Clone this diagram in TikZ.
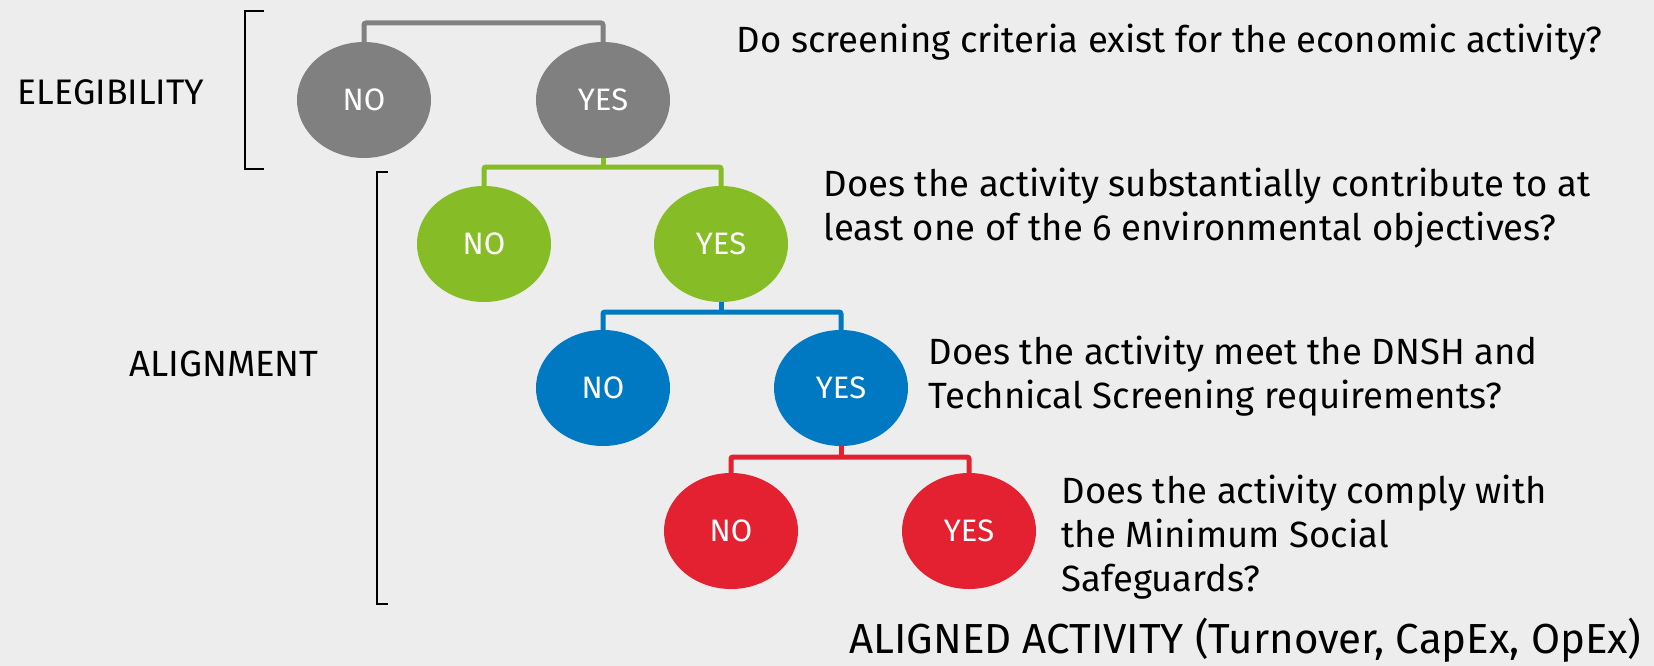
\documentclass[tikz,border=0pt]{standalone}
\usepackage{fontspec}
\setmainfont{Fira Sans}
\usetikzlibrary{positioning}
\usetikzlibrary{shapes.geometric}
\definecolor{backcol}{HTML}{EDEDED}
\definecolor{greycol}{HTML}{808080}
\definecolor{greencol}{HTML}{86BC25}
\definecolor{bluecol}{HTML}{0079C2}
\definecolor{redcol}{HTML}{E42131}

\begin{document}
\begin{tikzpicture}
	[x=1pt,y=-1pt,
	answer/.style={shape=ellipse,inner sep=0pt,minimum width=134pt,minimum height=116pt,text=white,font=\fontsize{31}{34}\selectfont},
	link/.style={line width=5pt,rounded corners=2pt},
	question/.style={anchor=west,align=left,font=\fontsize{36.5}{44}\selectfont},
	bracket/.style={line width=1.8pt}]
	\fill[backcol] (0,0) rectangle (1654,666);
	\useasboundingbox (0,0) rectangle (1654,666);
	
	% level 1
	\node [answer,fill=greycol] (n1) at (364,100) {NO} ;
	\node [answer,fill=greycol] (y1) at (603,100) {YES} ;
	% level 2
	\node [answer,fill=greencol] (n2) at (484,244) {NO} ;
	\node [answer,fill=greencol] (y2) at (721,244) {YES} ;
	% level 3
	\node [answer,fill=bluecol] (n3) at (603,388) {NO} ;
	\node [answer,fill=bluecol] (y3) at (841,388) {YES} ;
	% level 4
	\node [answer,fill=redcol] (n4) at (731,531) {NO} ;
	\node [answer,fill=redcol] (y4) at (969,531) {YES} ;
	
	\coordinate (t1) at (483,23) ;
	\coordinate (t2) at (603,167) ;
	\coordinate (t3) at (721,312) ;
	\coordinate (t4) at (841,457) ;
	
	\draw[link,greycol] (n1.north) |- (t1) -| (y1.north) ;
	\draw[link,greencol] (y1.south) -- (t2) ;
	\draw[link,greencol] (n2.north) |- (t2) -| (y2.north) ;
	\draw[link,bluecol] (y2.south) -- (t3) ;
	\draw[link,bluecol] (n3.north) |- (t3) -| (y3.north) ;
	\draw[link,redcol] (y3.south) -- (t4) ;
	\draw[link,redcol] (n4.north) |- (t4) -| (y4.north) ;
	
	% brackets
	\draw[bracket] (264,11) -- (245,11) -- (245,169) -- (264,169) ;
	\draw[bracket] (388,172) -- (377,172) -- (377,604) -- (388,604) ;
	
	\node [font=\fontsize{35.5}{40}\selectfont] (elig) at (111,92) {ELEGIBILITY} ;
	\node [font=\fontsize{36.5}{40}\selectfont] (align) at (224,364) {ALIGNMENT} ;
	
	\node [question] (q1) at (733,42) {Do screening criteria exist for the economic activity?} ;
	\node [question] (q2) at (820,208) {Does the activity substantially contribute to at\\least one of the 6 environmental objectives?} ;
	\node [question] (q3) at (925,376) {Does the activity meet the DNSH and\\Technical Screening requirements?} ;
	\node [question] (q4) at (1058,537) {Does the activity comply with\\the Minimum Social\\Safeguards?} ;
	
	\node [anchor=east,font=\fontsize{42}{48}\selectfont] (aligned) at (1645,640) {ALIGNED ACTIVITY (Turnover, CapEx, OpEx)} ;
\end{tikzpicture}
\end{document}
